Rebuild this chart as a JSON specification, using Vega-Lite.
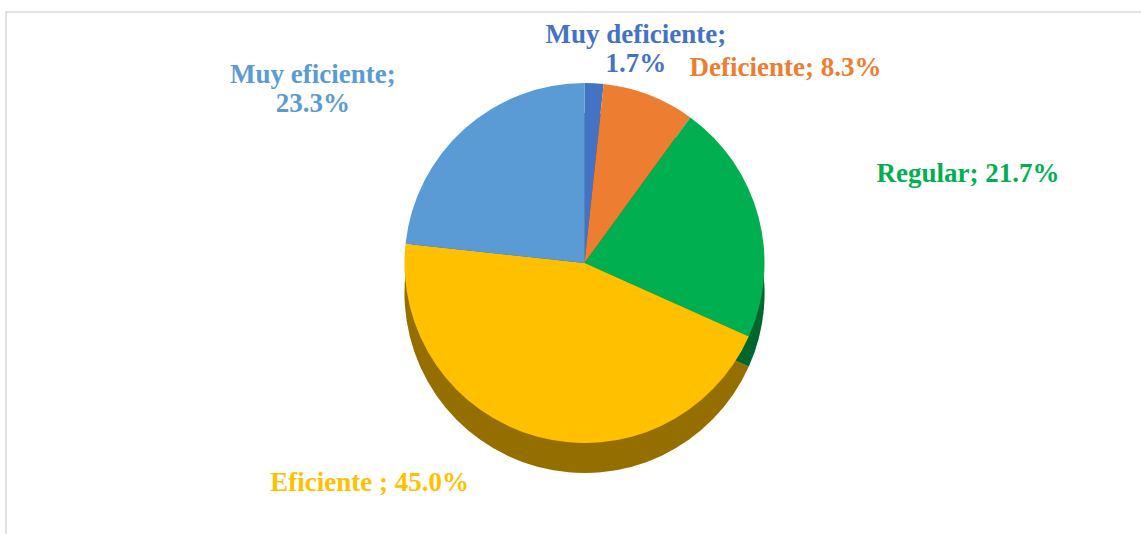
{
  "$schema": "https://vega.github.io/schema/vega-lite/v6.json",
  "autosize": "none",
  "width": 1139,
  "height": 526,
  "padding": {"left": 6, "top": 12, "right": -4, "bottom": -4},
  "background": "white",
  "view": {"stroke": "#D9D9D9", "strokeWidth": 1.5},
  "data": {
    "values": [
      {"categoria": "Muy deficiente", "porcentaje": 1.7, "orden": 1, "etiqueta": "Muy deficiente;\n1.7%"},
      {"categoria": "Deficiente", "porcentaje": 8.3, "orden": 2, "etiqueta": "Deficiente; 8.3%"},
      {"categoria": "Regular", "porcentaje": 21.7, "orden": 3, "etiqueta": "Regular; 21.7%"},
      {"categoria": "Eficiente", "porcentaje": 45.0, "orden": 4, "etiqueta": "Eficiente ; 45.0%"},
      {"categoria": "Muy eficiente", "porcentaje": 23.3, "orden": 5, "etiqueta": "Muy eficiente;\n23.3%"}
    ]
  },
  "encoding": {
    "theta": {"field": "porcentaje", "type": "quantitative", "stack": true},
    "order": {"field": "orden", "type": "quantitative"},
    "color": {
      "field": "categoria",
      "type": "nominal",
      "scale": {
        "domain": ["Muy deficiente", "Deficiente", "Regular", "Eficiente", "Muy eficiente"],
        "range": ["#4472C4", "#ED7D31", "#00B050", "#FFC000", "#5B9BD5"]
      },
      "legend": null
    }
  },
  "layer": [
    {"mark": {"type": "arc", "outerRadius": 180, "xOffset": 9, "yOffset": 18}},
    {"mark": {"type": "arc", "outerRadius": 180, "xOffset": 9, "yOffset": 18, "fillOpacity": 0.42}, "encoding": {"color": {"value": "black"}}},
    {"mark": {"type": "arc", "outerRadius": 180, "xOffset": 9, "yOffset": -12}},
    {
      "mark": {"type": "text", "radius": 213, "xOffset": 9, "yOffset": -12, "dx": 40, "dy": -15, "align": "center", "baseline": "middle", "font": "Liberation Serif", "fontSize": 27, "fontWeight": "bold", "lineBreak": "\n"},
      "encoding": {"text": {"condition": {"test": "datum.categoria === 'Muy deficiente'", "field": "etiqueta"}, "value": ""}}
    },
    {
      "mark": {"type": "text", "radius": 209, "xOffset": 9, "yOffset": -12, "dx": 30, "align": "left", "baseline": "middle", "font": "Liberation Serif", "fontSize": 27, "fontWeight": "bold", "lineBreak": "\n"},
      "encoding": {"text": {"condition": {"test": "datum.categoria === 'Deficiente'", "field": "etiqueta"}, "value": ""}}
    },
    {
      "mark": {"type": "text", "radius": 209, "xOffset": 9, "yOffset": -12, "dx": 90, "dy": -35, "align": "left", "baseline": "middle", "font": "Liberation Serif", "fontSize": 27, "fontWeight": "bold", "lineBreak": "\n"},
      "encoding": {"text": {"condition": {"test": "datum.categoria === 'Regular'", "field": "etiqueta"}, "value": ""}}
    },
    {
      "mark": {"type": "text", "radius": 212, "xOffset": 9, "yOffset": -12, "dx": -130, "dy": -30, "align": "center", "baseline": "middle", "font": "Liberation Serif", "fontSize": 27, "fontWeight": "bold", "lineBreak": "\n"},
      "encoding": {"text": {"condition": {"test": "datum.categoria === 'Muy eficiente'", "field": "etiqueta"}, "value": ""}}
    },
    {
      "mark": {"type": "text", "radius": 240, "xOffset": 9, "yOffset": -12, "dx": -53, "dy": -12, "align": "right", "baseline": "middle", "font": "Liberation Serif", "fontSize": 27, "fontWeight": "bold", "lineBreak": "\n"},
      "encoding": {"text": {"condition": {"test": "datum.categoria === 'Eficiente'", "field": "etiqueta"}, "value": ""}}
    }
  ]
}
